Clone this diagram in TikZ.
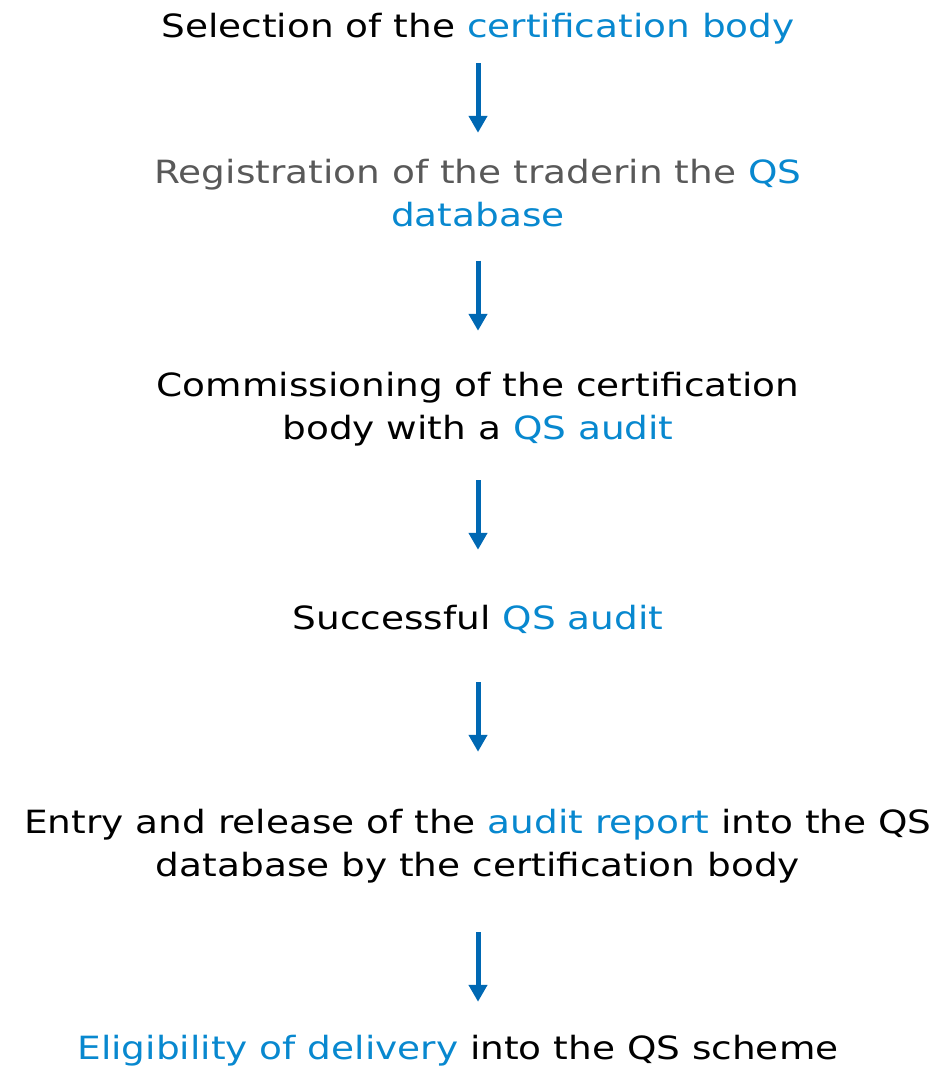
\documentclass[tikz,border=0pt]{standalone}
\usepackage{fontspec}
\setmainfont[FakeStretch=1.17]{DejaVu Sans}
\usetikzlibrary{arrows.meta}
\definecolor{qsblue}{HTML}{0888CF}
\definecolor{arrowblue}{HTML}{0068B3}
\definecolor{qsgrey}{HTML}{595959}
\tikzset{
  stepbox/.style={inner sep=0pt, align=center, anchor=base,
    font=\fontsize{32}{43}\selectfont},
  arr/.style={draw=arrowblue, line width=5pt,
    -{Triangle[length=17pt,width=18pt]}},
}
\newcommand{\hl}[1]{\textcolor{qsblue}{#1}}
\begin{document}
\begin{tikzpicture}[x=1pt,y=-1pt]
\useasboundingbox (0,0) rectangle (947,1069);
\node[stepbox] (n1) at (478,37) {Selection of the \hl{certification body}};
\node[stepbox, text=qsgrey] (n2) at (478,226) {Registration of the traderin the \hl{QS}\\\hl{database}};
\node[stepbox] (n3) at (478,439) {Commissioning of the certification\\body with a \hl{QS audit}};
\node[stepbox] (n4) at (478,629) {Successful \hl{QS audit}};
\node[stepbox] (n5) at (478,876) {Entry and release of the \hl{audit report} into the QS\\database by the certification body};
\node[stepbox] (n6) at (458,1059) {\hl{Eligibility of delivery} into the QS scheme};
\draw[arr, shorten <=19.5pt, shorten >=25.7pt] (n1) -- (n2);
\draw[arr, shorten <=34pt, shorten >=40.7pt] (n2) -- (n3);
\draw[arr, shorten <=34.4pt, shorten >=54.7pt] (n3) -- (n4);
\draw[arr, shorten <=49pt, shorten >=56.7pt] (n4) -- (n5);
\draw[arr, shorten <=49.4pt, shorten >=32.7pt] (n5) -- (n5 |- n6.north);
\end{tikzpicture}
\end{document}
